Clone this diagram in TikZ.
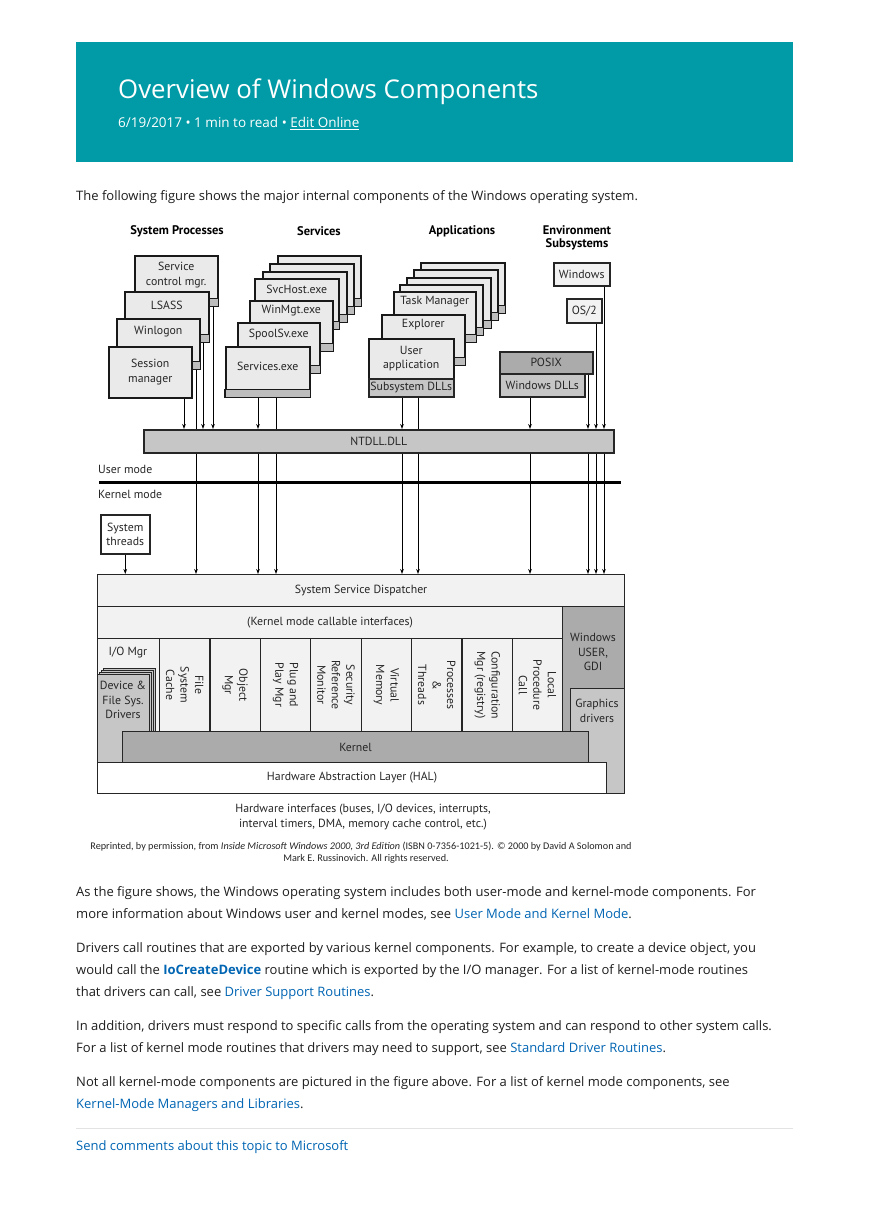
\documentclass[tikz,border=0pt]{standalone}
\usepackage{fontspec}
\setmainfont{Open Sans}
\newfontfamily\figfont{PT Sans}
\newfontfamily\notefont{Carlito}
\usetikzlibrary{arrows.meta}

\definecolor{docteal}{RGB}{0,155,166}
\definecolor{doctext}{HTML}{1E1E1E}
\definecolor{doclink}{HTML}{0065B3}
\definecolor{boxgray}{HTML}{EAEAEA}
\definecolor{stripgray}{HTML}{BDBDBD}
\definecolor{dllgray}{HTML}{C6C6C6}
\definecolor{darkgray}{HTML}{ABABAB}
\definecolor{palegray}{HTML}{F2F2F2}
\definecolor{rulegray}{HTML}{E3E3E3}

\begin{document}
\begin{tikzpicture}[
                x=1pt,
                y=-1pt,
                every node/.style={inner sep=0pt},
                para/.style={
                    anchor=base west,
                    text=doctext,
                    font=\fontsize{13}{16}\selectfont
                },
                head/.style={
                    font=\figfont\bfseries\fontsize{12.5}{13.5}\selectfont,
                    align=center
                },
                lbl/.style={
                    font=\figfont\fontsize{11.8}{14.5}\selectfont,
                    align=center,
                    text=black!85
                },
                pbox/.style={
                    draw=black!90,
                    line width=1.5pt,
                    fill=boxgray,
                    anchor=north west,
                    minimum height=50
                },
                strip/.style={
                    draw=black!90,
                    line width=1.5pt,
                    fill=stripgray
                },
                kbox/.style={
                    draw=black!85,
                    line width=1.1pt,
                    anchor=north west,
                    lbl
                },
                arr/.style={
                    -{Stealth[length=5pt,width=3.6pt]},
                    line width=1pt
                },
                wire/.style={line width=1pt}
            ]

        \newcommand{\procbox}[6]{%
            \node[pbox, minimum width=#4] (#1) at (#2,#3) {};
            \draw[strip] ([yshift=8pt]#1.south west) rectangle (#1.south east);
            \node[lbl] (#1-t) at (#1.north |- 0,#5) {#6};
        }
        \newcommand{\blockat}[7]{%
            \node[kbox, #6, minimum width={#4-#2}, minimum height={#5-#3}]
                (#1) at (#2,#3) {#7};
        }

        \useasboundingbox (0,0) rectangle (868,1228);
        \fill[white] (0,0) rectangle (868,1228);

        % Page header
        \fill[docteal] (76,42) rectangle (793,162);
        \node[anchor=base west, text=white,
              font=\fontsize{25.8}{30}\selectfont] (title) at (118,99)
            {Overview of Windows Components};
        \node[anchor=base west, text=white,
              font=\fontsize{13.5}{15}\selectfont] (meta) at (118,128)
            {6/19/2017 • 1 min to read • \underline{Edit Online}};
        \node[para] (intro) at (76,200)
            {The following figure shows the major internal components of the Windows operating system.};

        % Headings
        \node[head] (h-sys) at (177,231) {System Processes};
        \node[head] (h-svc) at (319,231) {Services};
        \node[head] (h-app) at (462,231) {Applications};
        \node[head] (h-env) at (577,238) {Environment\\Subsystems};

        % System processes
        \procbox{scm}{134}{255}{83}{275}{Service\\control mgr.}
        \procbox{lsass}{124}{291}{84}{305}{LSASS}
        \procbox{winlogon}{116}{318}{83}{332}{Winlogon}
        \node[pbox, minimum width=83, minimum height=51] (smgr) at (108,346) {};
        \node[lbl] (smgr-t) at (smgr.center) {Session\\manager};

        % Services
        \procbox{svc6}{277}{255}{83}{266}{}
        \procbox{svc5}{269}{263}{84}{270}{}
        \procbox{svc4}{262}{271}{84}{274}{}
        \procbox{svchost}{254}{278}{84}{289}{SvcHost.exe}
        \procbox{winmgt}{249}{300}{83}{311}{WinMgt.exe}
        \procbox{spoolsv}{237}{322}{82}{334}{SpoolSv.exe}
        \procbox{services}{225}{346}{84}{366}{Services.exe}

        % Applications
        \procbox{app4}{420}{262}{84}{270}{}
        \procbox{app3}{413}{269}{84}{274}{}
        \procbox{app2}{406}{277}{84}{281}{}
        \procbox{app1}{399}{284}{83}{288}{}
        \procbox{taskmgr}{393}{291}{82}{302}{Task Manager}
        \procbox{explorer}{381}{314}{83}{325}{Explorer}
        \node[pbox, minimum width=85, minimum height=40] (userapp) at (368,338) {};
        \node[lbl] (userapp-t) at (userapp.center) {User\\application};
        \node[kbox, line width=1.5pt, fill=dllgray, minimum width=85,
              minimum height=18] (subdll) at (368,378) {Subsystem DLLs};

        % Environment subsystems
        \node[kbox, line width=1.5pt, fill=palegray, minimum width=56,
              minimum height=23] (winsub) at (553,262) {Windows};
        \node[kbox, line width=1.5pt, fill=palegray, minimum width=35,
              minimum height=24] (os2) at (566,298) {OS/2};
        \node[kbox, line width=1.5pt, fill=darkgray, minimum width=93,
              minimum height=22] (posix) at (499,351) {POSIX};
        \node[kbox, line width=1.5pt, fill=dllgray, minimum width=85,
              minimum height=23] (windll) at (499,373) {Windows DLLs};

        % NTDLL and mode line
        \node[kbox, line width=1.5pt, fill=dllgray, minimum width=470,
              minimum height=23] (ntdll) at (143,429) {NTDLL.DLL};
        \draw[line width=3pt] (99,482) -- (621,482);
        \node[lbl, anchor=west] (umode) at (98,469) {User mode};
        \node[lbl, anchor=west] (kmode) at (98,494) {Kernel mode};
        \node[kbox, line width=1.5pt, fill=white, minimum width=49,
              minimum height=39] (systhr) at (100,514) {System\\threads};

        % Kernel mode blocks
        \blockat{disp}{97}{574}{624}{606}{fill=palegray}{System Service Dispatcher}
        \blockat{usergdi}{562}{606}{624}{793}{fill=darkgray}{}
        \node[lbl] (usergdi-t) at (593,652) {Windows\\USER,\\GDI};
        \blockat{gfx}{570}{688}{624}{793}{fill=dllgray}{}
        \node[lbl] (gfx-t) at (597,711) {Graphics\\drivers};
        \blockat{kci}{97}{606}{562}{638}{fill=palegray}{(Kernel mode callable interfaces)}
        \blockat{iomgr}{97}{638}{159}{731}{fill=palegray}{}
        \node[lbl] (iomgr-t) at (128,653) {I/O Mgr};

        \foreach \txt [count=\i from 0] in {
            {File\\System\\Cache}, {Object\\Mgr}, {Plug and\\Play Mgr},
            {Security\\Reference\\Monitor}, {Virtual\\Memory},
            {Processes\\\&\\Threads}, {Configuration\\Mgr (registry)},
            {Local\\Procedure\\Call}}{
            \node[kbox, fill=palegray, minimum width=50.4, minimum height=93]
                (col\i) at ({159+50.4*\i},638) {};
            \node[lbl, rotate=-90] (col\i-t) at (col\i.center) {\txt};
        }

        % Device & file system drivers
        \foreach \d in {3,2,1}{
            \node[kbox, line width=0.9pt, fill=dllgray, minimum width=52,
                  minimum height=88] (dev\d) at ({97+2*\d},{674-2*\d}) {};
        }
        \blockat{dev}{97}{674}{149}{762}{fill=dllgray}{}
        \node[lbl] (dev-t) at (123,700) {Device \&\\File Sys.\\Drivers};

        \blockat{kernel}{122}{731}{588}{762}{fill=darkgray}{Kernel}
        \blockat{hal}{97}{762}{606}{793}{fill=white}{Hardware Abstraction Layer (HAL)}

        % Connectors into NTDLL
        \foreach \src/\x in {smgr/184, lsass/203, scm/213, services/258,
                             subdll/402, windll/530, posix/588, os2/596, winsub/604}
            \draw[arr] (\x,0 |- \src.south) -- (\x,0 |- ntdll.north);
        \foreach \src/\x in {winlogon/196, services/276, subdll/418}
            \draw[wire] (\x,0 |- \src.south) -- (\x,0 |- ntdll.north);
        % on to the dispatcher
        \foreach \x in {196,258,276,402,418,530,588,596,604}
            \draw[arr] (\x,0 |- ntdll.south) -- (\x,0 |- disp.north);
        \draw[arr] (systhr.south) -- (systhr.south |- disp.north);

        % Captions
        \node[lbl, anchor=base] (hw1) at (363,812)
            {Hardware interfaces (buses, I/O devices, interrupts,};
        \node[lbl, anchor=base] (hw2) at (363,827)
            {interval timers, DMA, memory cache control, etc.)};
        \node[anchor=base, text=black!85, font=\notefont\fontsize{10.2}{12}\selectfont]
            (credit1) at (361,849)
            {Reprinted, by permission, from \textit{Inside Microsoft Windows 2000, 3rd Edition} (ISBN 0-7356-1021-5). © 2000 by David A Solomon and};
        \node[anchor=base, text=black!85, font=\notefont\fontsize{10.2}{12}\selectfont]
            (credit2) at (366,861) {Mark E. Russinovich. All rights reserved.};

        % Body text
        \node[para] (p1a) at (76,896)
            {As the figure shows, the Windows operating system includes both user-mode and kernel-mode components. For};
        \node[para] (p1b) at (76,918)
            {more information about Windows user and kernel modes, see \textcolor{doclink}{User Mode and Kernel Mode}.};
        \node[para] (p2a) at (76,952)
            {Drivers call routines that are exported by various kernel components. For example, to create a device object, you};
        \node[para] (p2b) at (76,974)
            {would call the \textcolor{doclink}{\bfseries IoCreateDevice} routine which is exported by the I/O manager. For a list of kernel-mode routines};
        \node[para] (p2c) at (76,996)
            {that drivers can call, see \textcolor{doclink}{Driver Support Routines}.};
        \node[para] (p3a) at (76,1030)
            {In addition, drivers must respond to specific calls from the operating system and can respond to other system calls.};
        \node[para] (p3b) at (76,1052)
            {For a list of kernel mode routines that drivers may need to support, see \textcolor{doclink}{Standard Driver Routines}.};
        \node[para] (p4a) at (76,1086)
            {Not all kernel-mode components are pictured in the figure above. For a list of kernel mode components, see};
        \node[para] (p4b) at (76,1108)
            {\textcolor{doclink}{Kernel-Mode Managers and Libraries}.};
        \draw[rulegray, line width=0.8pt] (76,1128) -- (793,1128);
        \node[para, text=doclink] (send) at (76,1150)
            {Send comments about this topic to Microsoft};

            \end{tikzpicture}
\end{document}
